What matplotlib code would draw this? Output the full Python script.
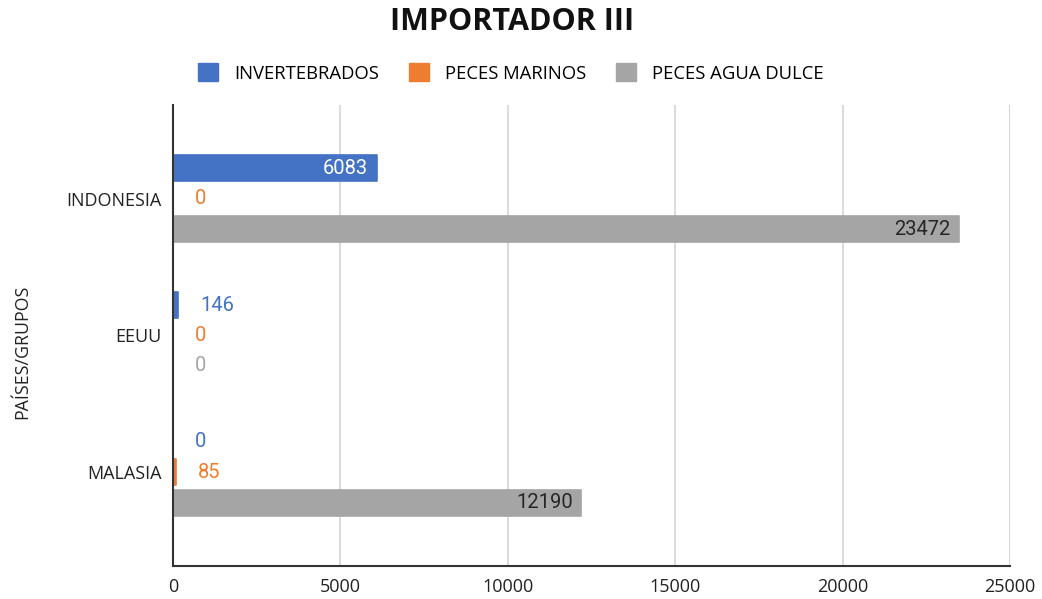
import numpy as np
import matplotlib
matplotlib.use("Agg")
import matplotlib.pyplot as plt
from matplotlib.patches import Patch

categories = ["INDONESIA", "EEUU", "MALASIA"]
series_names = ["INVERTEBRADOS", "PECES MARINOS", "PECES AGUA DULCE"]
invertebrados = [6083, 146, 0]
peces_marinos = [0, 0, 85]
peces_agua_dulce = [23472, 0, 12190]
x_ticks = [0, 5000, 10000, 15000, 20000, 25000]

COLORS = ["#4472C4", "#ED7D31", "#A5A5A5"]
INSIDE = ["white", "white", "#262626"]
OUTSIDE = ["#4472C4", "#ED7D31", "#A5A5A5"]
FONT = ["Open Sans", "DejaVu Sans"]
LBLFONT = ["Roboto", "DejaVu Sans"]

fig = plt.figure(figsize=(10.42, 5.99), dpi=100)
ax = fig.add_axes([173/1042, 1-566/599, (1010-173)/1042, (566-105)/599])

y = np.arange(len(categories))
h = 0.19; off = 0.223
xmax = 25000
for k, vals in enumerate([invertebrados, peces_marinos, peces_agua_dulce]):
    ys = y + (k-1)*off
    ax.barh(ys, vals, height=h, color=COLORS[k], edgecolor=COLORS[k], lw=1.2,
            joinstyle="round", zorder=3)
    for yy, v in zip(ys, vals):
        if v > 2000:   # big bars: label inside the end
            ax.annotate(f"{v}", (v, yy), xytext=(-6, 0), textcoords="offset points",
                        ha="right", va="center", fontsize=14.5, color=INSIDE[k], family=LBLFONT, zorder=4)
        else:
            ax.annotate(f"{v}", (v, yy), xytext=(16, 0), textcoords="offset points",
                        ha="left", va="center", fontsize=14.5, color=OUTSIDE[k], family=LBLFONT, zorder=4)

ax.set_xlim(0, xmax)
ax.set_ylim(2.686, -0.686)
ax.set_xticks(x_ticks)
ax.set_xticklabels([str(t) for t in x_ticks], fontsize=13, family=FONT, color="#222")
ax.set_yticks(y)
ax.set_yticklabels(categories, fontsize=13, family=FONT, color="#222")
ax.tick_params(length=0)
ax.tick_params(axis="y", pad=8)
ax.tick_params(axis="x", pad=9)
ax.grid(axis="x", color="#d4d4d4", lw=1.2, zorder=0)
ax.set_axisbelow(True)
for s in ["top", "right"]:
    ax.spines[s].set_visible(False)
ax.axvline(xmax, color="#d4d4d4", lw=1.2, zorder=0)
ax.spines["left"].set_color("#333333"); ax.spines["left"].set_linewidth(1.5); ax.spines["left"].set_zorder(5)
ax.spines["bottom"].set_color("#333333"); ax.spines["bottom"].set_linewidth(1.5)

fig.text(512/1042, 1-22/599, "IMPORTADOR III", ha="center", va="center", fontsize=22,
         fontweight="bold", family=FONT, color="#111")
fig.text(22/1042, 1-352/599, "PAÍSES/GRUPOS", rotation=90, ha="center", va="center",
         fontsize=12.8, family=FONT, color="#222")

handles = [Patch(facecolor=c, edgecolor=c, label=n) for c, n in zip(COLORS, series_names)]
fig.legend(handles=handles, loc="center", bbox_to_anchor=(511/1042, 1-73/599), ncol=3,
           frameon=False, prop={"family": FONT, "size": 13.3}, handlelength=1.07, handleheight=1.1,
           columnspacing=1.6, handletextpad=0.9)

fig.savefig("out.png", dpi=100, facecolor="white")
